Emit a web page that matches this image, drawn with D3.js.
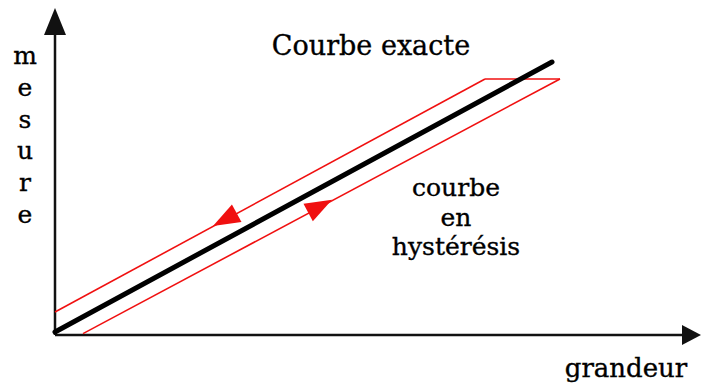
<!DOCTYPE html>
<html>
<head>
<meta charset="utf-8">
<script src="https://cdn.jsdelivr.net/npm/d3@7"></script>
<style>
  html, body { margin: 0; padding: 0; background: #fff; }
  svg { display: block; }
  text { font-family: "DejaVu Serif", serif; fill: #000; stroke: #000; stroke-width: 0.35; }
</style>
</head>
<body>
<svg id="chart" width="705" height="387"></svg>
<script>
// Ideal sensor response: mesure proportional to grandeur
const exactCurve = [[0, 1.1], [99.4, 100]];
// Hysteresis loop: rising branch, plateau, falling branch
const hysteresisUpper = [[0, 8.4], [86, 93.8]];
const hysteresisTop = [[86, 93.8], [101, 93.8]];
const hysteresisLower = [[101, 93.8], [5.6, 0.5]];
// Direction arrows on the loop: point, and the point they head toward
const loopArrows = [
  { at: [31.6, 39.9], toward: [0, 8.4] },
  { at: [55.4, 49.5], toward: [101, 93.8] }
];
const yAxisLabel = "mesure";
const xAxisLabel = "grandeur";
const exactLabel = "Courbe exacte";
const hysteresisLabel = ["courbe", "en", "hystérésis"];

const svg = d3.select("#chart");
const x = d3.scaleLinear().domain([0, 100]).range([55, 555]);
const y = d3.scaleLinear().domain([0, 100]).range([335, 62]);
const line = d3.line().x(d => x(d[0])).y(d => y(d[1]));

// Axes with arrowheads
svg.append("line").attr("x1", x(0)).attr("y1", y(0)).attr("x2", x(0)).attr("y2", 22)
  .attr("stroke", "#111").attr("stroke-width", 2.5);
svg.append("line").attr("x1", x(0)).attr("y1", y(0)).attr("x2", 690).attr("y2", y(0))
  .attr("stroke", "#111").attr("stroke-width", 2.5);
svg.append("path").attr("d", `M${x(0)},8 L${x(0) - 11},35 L${x(0) + 11},35 Z`).attr("fill", "#111");
svg.append("path").attr("d", `M701,${y(0)} L682,${y(0) - 10} L682,${y(0) + 10} Z`).attr("fill", "#111");

// Hysteresis loop (red)
[hysteresisUpper, hysteresisTop, hysteresisLower].forEach(seg => {
  svg.append("path").attr("d", line(seg)).attr("fill", "none")
    .attr("stroke", "#f01010").attr("stroke-width", 1.6);
});

// Exact curve (thick black)
svg.append("path").attr("d", line(exactCurve)).attr("fill", "none")
  .attr("stroke", "#000").attr("stroke-width", 5).attr("stroke-linecap", "round");

// Direction arrowheads
loopArrows.forEach(a => {
  const px = x(a.at[0]), py = y(a.at[1]);
  const ang = Math.atan2(y(a.toward[1]) - py, x(a.toward[0]) - px) * 180 / Math.PI;
  svg.append("path").attr("d", "M0,0 L-27,-10 L-27,10 Z")
    .attr("transform", `translate(${px},${py}) rotate(${ang})`)
    .attr("fill", "#f01010");
});

// Labels
svg.append("text").attr("x", 371).attr("y", 55).attr("text-anchor", "middle")
  .attr("font-size", 27).text(exactLabel);
const hy = [196, 225.5, 255];
hysteresisLabel.forEach((t, i) => {
  svg.append("text").attr("x", 456).attr("y", hy[i]).attr("text-anchor", "middle")
    .attr("font-size", 25).text(t);
});
yAxisLabel.split("").forEach((c, i) => {
  svg.append("text").attr("x", 25).attr("y", 64 + i * 31.8).attr("text-anchor", "middle")
    .attr("font-size", 25).text(c);
});
svg.append("text").attr("x", 626).attr("y", 377).attr("text-anchor", "middle")
  .attr("font-size", 26).text(xAxisLabel);
</script>
</body>
</html>
